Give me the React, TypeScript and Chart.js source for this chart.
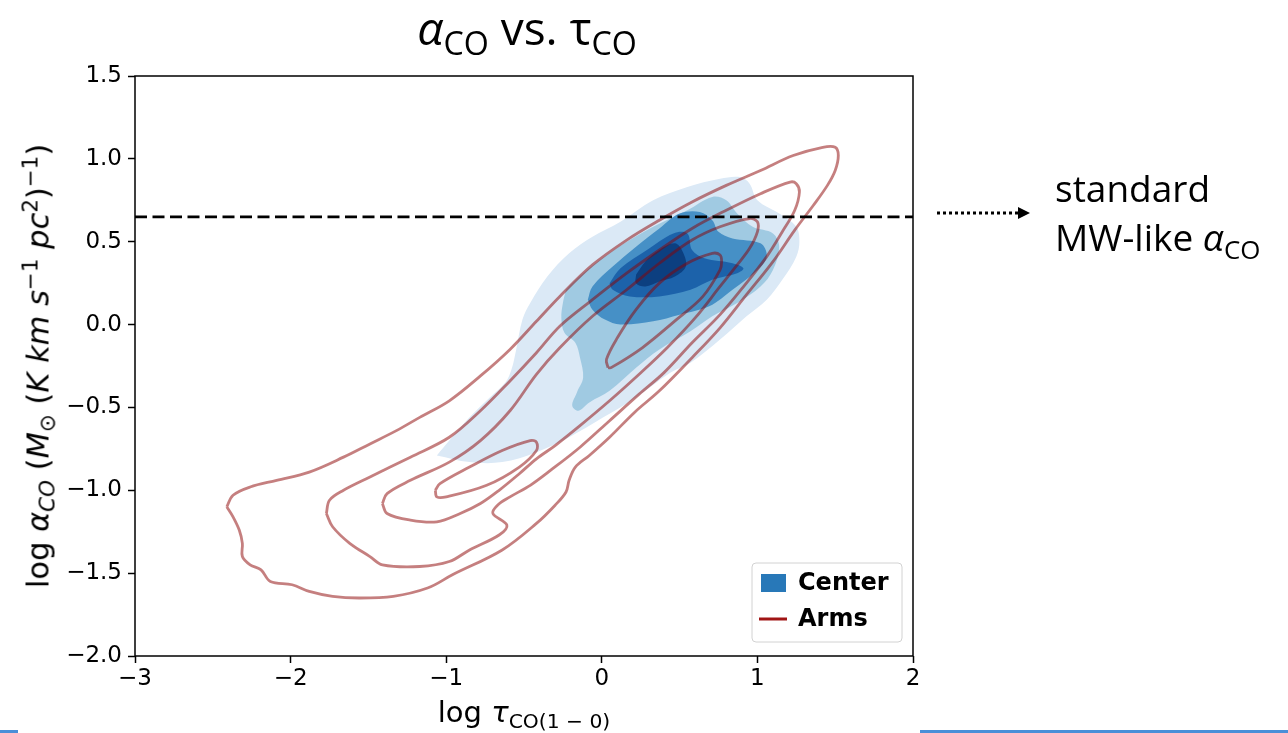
import React, { useEffect, useRef } from 'react';
import { Chart, registerables } from 'chart.js';

Chart.register(...registerables);

type Pt = [number, number];

// Axis ranges and ticks
const xRange: Pt = [-3, 2];
const yRange: Pt = [-2, 1.5];
const xTicks = [-3, -2, -1, 0, 1, 2];
const yTicks = [-2, -1.5, -1, -0.5, 0, 0.5, 1, 1.5];

// Standard Milky-Way-like conversion factor (log)
const mwAlphaCO = 0.65;

// Arms: KDE line contours, outermost to innermost (log tau, log alpha)
const armsLevel1: Pt[] = [
  [-2.41, -1.10], [-2.37, -1.03], [-2.26, -0.98], [-2.09, -0.94], [-1.88, -0.89], [-1.66, -0.80],
  [-1.49, -0.72], [-1.32, -0.64], [-1.17, -0.56], [-0.98, -0.46], [-0.78, -0.31], [-0.59, -0.15],
  [-0.42, 0.02], [-0.27, 0.17], [-0.06, 0.36], [0.16, 0.51], [0.37, 0.63], [0.58, 0.74],
  [0.80, 0.84], [1.02, 0.93], [1.23, 1.02], [1.42, 1.07], [1.50, 1.07], [1.52, 1.02],
  [1.50, 0.93], [1.45, 0.84], [1.36, 0.72], [1.24, 0.57], [1.10, 0.38], [0.93, 0.18],
  [0.76, -0.02], [0.58, -0.20], [0.37, -0.40], [0.21, -0.53], [0.05, -0.68], [-0.08, -0.79],
  [-0.17, -0.86], [-0.21, -0.94], [-0.23, -1.01], [-0.30, -1.09], [-0.42, -1.20], [-0.64, -1.36],
  [-0.96, -1.51], [-1.12, -1.59], [-1.34, -1.64], [-1.56, -1.65], [-1.73, -1.64], [-1.88, -1.61],
  [-1.99, -1.57], [-2.13, -1.55], [-2.19, -1.48], [-2.26, -1.45], [-2.31, -1.40], [-2.31, -1.32],
  [-2.33, -1.24], [-2.37, -1.16],
];
const armsLevel2: Pt[] = [
  [-1.77, -1.14], [-1.75, -1.06], [-1.66, -1.00], [-1.49, -0.92], [-1.23, -0.80], [-0.98, -0.68],
  [-0.78, -0.52], [-0.59, -0.34], [-0.42, -0.17], [-0.27, -0.01], [-0.06, 0.15], [0.16, 0.31],
  [0.37, 0.45], [0.58, 0.58], [0.80, 0.69], [1.02, 0.79], [1.21, 0.86], [1.25, 0.85],
  [1.27, 0.80], [1.24, 0.69], [1.16, 0.56], [1.06, 0.41], [0.92, 0.24], [0.76, 0.06],
  [0.58, -0.11], [0.40, -0.29], [0.24, -0.42], [0.05, -0.58], [-0.14, -0.74], [-0.33, -0.88],
  [-0.46, -0.97], [-0.59, -1.04], [-0.67, -1.09], [-0.70, -1.14], [-0.61, -1.21], [-0.66, -1.27],
  [-0.85, -1.36], [-0.98, -1.43], [-1.17, -1.46], [-1.41, -1.45], [-1.49, -1.40], [-1.62, -1.32],
  [-1.73, -1.22],
];
const armsLevel3: Pt[] = [
  [-1.41, -1.08], [-1.38, -1.02], [-1.23, -0.94], [-0.98, -0.83], [-0.78, -0.70], [-0.59, -0.52],
  [-0.42, -0.30], [-0.27, -0.14], [-0.06, 0.05], [0.16, 0.21], [0.37, 0.37], [0.58, 0.51],
  [0.76, 0.59], [0.95, 0.64], [1.00, 0.62], [1.00, 0.56], [0.95, 0.46], [0.87, 0.36],
  [0.76, 0.23], [0.60, 0.04], [0.42, -0.14], [0.24, -0.30], [0.05, -0.46], [-0.14, -0.61],
  [-0.30, -0.73], [-0.42, -0.81], [-0.53, -0.90], [-0.66, -1.00], [-0.78, -1.08], [-0.91, -1.14],
  [-1.06, -1.19], [-1.23, -1.18], [-1.38, -1.14],
];
const armsLevel4Upper: Pt[] = [
  [0.04, -0.26], [0.03, -0.21], [0.10, -0.08], [0.22, 0.09], [0.37, 0.25], [0.55, 0.37],
  [0.71, 0.43], [0.76, 0.42], [0.77, 0.38], [0.76, 0.33], [0.65, 0.17], [0.48, 0.03],
  [0.26, -0.14], [0.06, -0.26],
];
const armsLevel4Lower: Pt[] = [
  [-1.07, -1.00], [-1.04, -0.96], [-0.85, -0.86], [-0.64, -0.76], [-0.46, -0.70], [-0.42, -0.71],
  [-0.42, -0.76], [-0.53, -0.86], [-0.74, -0.97], [-1.00, -1.04], [-1.06, -1.04],
];

// Center: filled KDE contours, lowest to highest density
const centerLevel1: Pt[] = [
  [-1.06, -0.79], [-0.98, -0.70], [-0.85, -0.56], [-0.72, -0.44], [-0.62, -0.35], [-0.58, -0.27],
  [-0.55, -0.15], [-0.51, 0.03], [-0.46, 0.13], [-0.35, 0.29], [-0.21, 0.43], [-0.06, 0.53],
  [0.12, 0.62], [0.33, 0.75], [0.55, 0.83], [0.76, 0.88], [0.89, 0.89], [0.95, 0.85],
  [1.00, 0.75], [1.14, 0.67], [1.25, 0.59], [1.27, 0.50], [1.25, 0.41], [1.16, 0.27],
  [1.06, 0.15], [0.93, 0.05], [0.76, -0.09], [0.57, -0.23], [0.44, -0.29], [0.22, -0.44],
  [0.01, -0.56], [-0.21, -0.68], [-0.42, -0.77], [-0.64, -0.83], [-0.85, -0.83],
];
const centerLevel2: Pt[] = [
  [-0.23, 0.21], [-0.19, 0.25], [-0.08, 0.34], [0.05, 0.43], [0.18, 0.51], [0.33, 0.59],
  [0.55, 0.69], [0.71, 0.77], [0.80, 0.75], [0.87, 0.67], [0.97, 0.59], [1.10, 0.55],
  [1.14, 0.47], [1.10, 0.33], [1.02, 0.23], [0.87, 0.13], [0.71, 0.05], [0.57, -0.04],
  [0.37, -0.15], [0.22, -0.26], [0.05, -0.40], [-0.08, -0.47], [-0.15, -0.52], [-0.19, -0.49],
  [-0.16, -0.41], [-0.12, -0.32], [-0.14, -0.20], [-0.17, -0.11], [-0.24, -0.05], [-0.26, 0.04],
  [-0.25, 0.13],
];
const centerLevel3: Pt[] = [
  [-0.09, 0.15], [-0.06, 0.23], [0.07, 0.35], [0.22, 0.47], [0.37, 0.58], [0.50, 0.67],
  [0.63, 0.68], [0.71, 0.63], [0.75, 0.56], [0.84, 0.52], [1.02, 0.49], [1.06, 0.41],
  [1.00, 0.33], [0.84, 0.21], [0.69, 0.11], [0.50, 0.06], [0.33, 0.02], [0.12, 0.00],
  [0.02, 0.03], [-0.06, 0.09],
];
const centerLevel4: Pt[] = [
  [0.05, 0.25], [0.12, 0.34], [0.29, 0.45], [0.46, 0.55], [0.55, 0.55], [0.58, 0.45],
  [0.66, 0.40], [0.84, 0.37], [0.91, 0.34], [0.87, 0.31], [0.71, 0.27], [0.57, 0.21],
  [0.37, 0.17], [0.18, 0.17], [0.07, 0.21],
];
const centerLevel5: Pt[] = [
  [0.22, 0.30], [0.28, 0.38], [0.37, 0.45], [0.47, 0.49], [0.52, 0.44], [0.54, 0.35],
  [0.47, 0.29], [0.37, 0.26], [0.28, 0.23], [0.22, 0.25],
];

const centerLevels = [centerLevel1, centerLevel2, centerLevel3, centerLevel4, centerLevel5];
const armsLevels = [armsLevel1, armsLevel2, armsLevel3, armsLevel4Upper, armsLevel4Lower];

const centerColors = ['#dbe9f6', '#a0cae2', '#4690c6', '#1c62aa', '#0c3f80'];
const armsLineColor = 'rgba(139, 0, 0, 0.5)';
const legendLabels = ['Center', 'Arms'];
const legendCenterColor = '#2878b8';
const legendArmsColor = '#a01414';

Chart.defaults.font.family = '"DejaVu Sans"';
const tickFont = { family: '"DejaVu Sans"', size: 23 };

const fmt = (v: number, digits: number) =>
  (v < 0 ? '\u2212' : '') + Math.abs(v).toFixed(digits);

const closed = (pts: Pt[]) => {
  const out = pts.map(([x, y]) => ({ x, y }));
  out.push({ x: pts[0][0], y: pts[0][1] });
  return out;
};

// Black frame around the plotting area (all four spines)
const framePlugin = {
  id: 'frame',
  afterDatasetsDraw(chart: any) {
    const { ctx, chartArea: a } = chart;
    ctx.save();
    ctx.strokeStyle = '#000';
    ctx.lineWidth = 1.5;
    ctx.strokeRect(a.left, a.top, a.right - a.left, a.bottom - a.top);
    ctx.restore();
  },
};

// Legend box in the lower-right corner of the plotting area
const cornerLegendPlugin = {
  id: 'cornerLegend',
  afterDraw(chart: any) {
    const { ctx, chartArea: a } = chart;
    const w = 150;
    const h = 79;
    const x0 = a.right - 11 - w;
    const y0 = a.bottom - 14 - h;
    ctx.save();
    ctx.beginPath();
    ctx.roundRect(x0, y0, w, h, 4);
    ctx.fillStyle = 'rgba(255,255,255,0.85)';
    ctx.fill();
    ctx.strokeStyle = '#d2d2d2';
    ctx.lineWidth = 1;
    ctx.stroke();
    ctx.fillStyle = legendCenterColor;
    ctx.fillRect(x0 + 9, y0 + 11, 25, 18);
    ctx.strokeStyle = legendArmsColor;
    ctx.lineWidth = 3;
    ctx.beginPath();
    ctx.moveTo(x0 + 7, y0 + 56);
    ctx.lineTo(x0 + 35, y0 + 56);
    ctx.stroke();
    ctx.fillStyle = '#000';
    ctx.font = 'bold 24px "DejaVu Sans"';
    ctx.textBaseline = 'middle';
    ctx.fillText(legendLabels[0], x0 + 46, y0 + 21);
    ctx.fillText(legendLabels[1], x0 + 46, y0 + 57);
    ctx.restore();
  },
};

const Sub = ({ children, italic = false }: { children: React.ReactNode; italic?: boolean }) => (
  <span style={{ fontSize: '0.7em', position: 'relative', top: '0.3em', fontStyle: italic ? 'italic' : 'normal' }}>
    {children}
  </span>
);
const Sup = ({ children }: { children: React.ReactNode }) => (
  <span style={{ fontSize: '0.7em', position: 'relative', top: '-0.5em' }}>{children}</span>
);

export default function App() {
  const canvasRef = useRef<HTMLCanvasElement>(null);

  useEffect(() => {
    const canvas = canvasRef.current;
    if (!canvas) return;

    const fillSets = centerLevels.map((pts, i) => ({
      data: closed(pts),
      showLine: true,
      fill: 'shape',
      backgroundColor: centerColors[i],
      borderColor: 'rgba(0,0,0,0)',
      borderWidth: 0,
      pointRadius: 0,
      tension: 0.35,
      order: 20 - i,
    }));
    const lineSets = armsLevels.map((pts) => ({
      data: closed(pts),
      showLine: true,
      fill: false,
      borderColor: armsLineColor,
      borderWidth: 2.8,
      pointRadius: 0,
      tension: 0.35,
      order: 5,
    }));
    const refLine = {
      data: [
        { x: xRange[0], y: mwAlphaCO },
        { x: xRange[1], y: mwAlphaCO },
      ],
      showLine: true,
      fill: false,
      borderColor: '#000',
      borderWidth: 2.8,
      borderDash: [12, 5.5],
      pointRadius: 0,
      order: 1,
    };

    const tickGrid = {
      drawOnChartArea: false,
      drawTicks: true,
      tickLength: 7,
      tickWidth: 1.5,
      tickColor: '#000',
    };

    const chart = new Chart(canvas, {
      type: 'scatter',
      data: { datasets: [...fillSets, ...lineSets, refLine] as any },
      options: {
        responsive: false,
        animation: false,
        devicePixelRatio: 1,
        events: [],
        layout: { padding: { left: 45, right: 375, top: 76, bottom: 37 } },
        plugins: { legend: { display: false }, tooltip: { enabled: false } },
        scales: {
          x: {
            type: 'linear',
            min: xRange[0],
            max: xRange[1],
            afterBuildTicks: (s: any) => {
              s.ticks = xTicks.map((value) => ({ value }));
            },
            afterTickToLabelConversion: (s: any) => {
              s.ticks.forEach((t: any) => {
                t.label = fmt(t.value, 0);
              });
            },
            afterFit: (s: any) => {
              s.height = 40;
            },
            ticks: {
              font: tickFont,
              color: '#000',
              padding: 2,
              maxRotation: 0,
              autoSkip: false,
            },
            grid: tickGrid,
            border: { display: false },
          },
          y: {
            type: 'linear',
            min: yRange[0],
            max: yRange[1],
            afterBuildTicks: (s: any) => {
              s.ticks = yTicks.map((value) => ({ value }));
            },
            afterTickToLabelConversion: (s: any) => {
              s.ticks.forEach((t: any) => {
                t.label = fmt(t.value, 1);
              });
            },
            afterFit: (s: any) => {
              s.width = 90;
            },
            ticks: {
              font: tickFont,
              color: '#000',
              padding: 6,
              autoSkip: false,
            },
            grid: tickGrid,
            border: { display: false },
          },
        },
      } as any,
      plugins: [framePlugin, cornerLegendPlugin],
    });

    return () => chart.destroy();
  }, []);

  return (
    <div
      style={{
        position: 'fixed',
        left: 0,
        top: 0,
        width: 1288,
        height: 733,
        background: '#fff',
        overflow: 'hidden',
      }}
    >
      <canvas
        ref={canvasRef}
        width={1288}
        height={733}
        style={{ position: 'absolute', left: 0, top: 0, width: 1288, height: 733 }}
      />

      {/* Title */}
      <div
        style={{
          position: 'absolute',
          left: 527,
          top: -3,
          transform: 'translateX(-50%)',
          fontFamily: '"Open Sans", "Noto Sans", sans-serif',
          fontSize: 46,
          lineHeight: '60px',
          whiteSpace: 'nowrap',
          color: '#000',
        }}
      >
        <i>α</i>
        <Sub>CO</Sub> vs. τ<Sub>CO</Sub>
      </div>

      {/* y-axis label */}
      <div
        style={{
          position: 'absolute',
          left: 40,
          top: 366,
          transform: 'translate(-50%, -50%) rotate(-90deg)',
          fontFamily: '"DejaVu Sans", sans-serif',
          fontSize: 30.5,
          lineHeight: '34px',
          whiteSpace: 'nowrap',
          color: '#000',
        }}
      >
        log <i>α</i>
        <Sub italic>CO</Sub> (<i>M</i>
        <Sub>⊙</Sub> (<i>K km s</i>
        <Sup>−1</Sup> <i>pc</i>
        <Sup>2</Sup>)<Sup>−1</Sup>)
      </div>

      {/* x-axis label */}
      <div
        style={{
          position: 'absolute',
          left: 524,
          top: 695,
          transform: 'translateX(-50%)',
          fontFamily: '"DejaVu Sans", sans-serif',
          fontSize: 29,
          lineHeight: '34px',
          whiteSpace: 'nowrap',
          color: '#000',
        }}
      >
        log <i>τ</i>
        <Sub>CO(1 − 0)</Sub>
      </div>

      {/* Side note with dotted arrow pointing at the reference line */}
      <svg
        width={110}
        height={26}
        style={{ position: 'absolute', left: 930, top: 200 }}
      >
        <line x1={7} y1={13} x2={90} y2={13} stroke="#000" strokeWidth={3} strokeDasharray="3 3" />
        <polygon points="88,7 100,13 88,19" fill="#000" />
      </svg>
      <div
        style={{
          position: 'absolute',
          left: 1055,
          top: 163,
          fontFamily: '"Open Sans", "Noto Sans", sans-serif',
          fontSize: 37,
          lineHeight: '49px',
          whiteSpace: 'nowrap',
          color: '#000',
        }}
      >
        standard
        <br />
        MW-like <i>α</i>
        <Sub>CO</Sub>
      </div>

      {/* Slide edge strips */}
      <div style={{ position: 'absolute', left: 0, top: 730, width: 18, height: 3, background: '#4a8fd8' }} />
      <div style={{ position: 'absolute', left: 920, top: 730, width: 368, height: 3, background: '#4a8fd8' }} />
    </div>
  );
}
